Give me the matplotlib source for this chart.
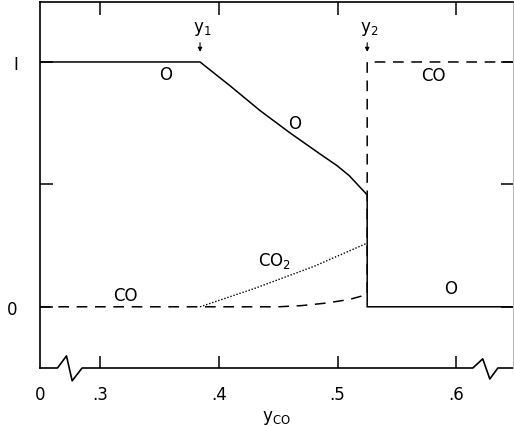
import matplotlib.pyplot as plt

# mole fractions vs y_CO
y1 = 0.384
y2 = 0.525

o_x = [0.249, 0.384, 0.41, 0.435, 0.46, 0.485, 0.50, 0.51, 0.525, 0.525, 0.648]
o_y = [1.0, 1.0, 0.90, 0.80, 0.71, 0.625, 0.575, 0.535, 0.457, 0.0, 0.0]

co_x = [0.249, 0.384, 0.45, 0.47, 0.49, 0.51, 0.525, 0.525, 0.648]
co_y = [0.0, 0.0, 0.0, 0.005, 0.015, 0.03, 0.05, 1.0, 1.0]

co2_x = [0.384, 0.43, 0.48, 0.525]
co2_y = [0.0, 0.075, 0.165, 0.26]

xticks = [0.3, 0.4, 0.5, 0.6]
xticklabels = [".3", ".4", ".5", ".6"]
yticks = [0.0, 0.5, 1.0]
yticklabels = ["0", "", "I"]

plt.rcParams["font.family"] = ["DejaVu Sans"]

fig = plt.figure(figsize=(5.14, 4.27), dpi=100)
ax = fig.add_axes([40 / 514, 58 / 427, 473 / 514, 366 / 427])

lw = 1.1
ax.plot(o_x, o_y, color="black", lw=lw, solid_joinstyle="miter")
ax.plot(co_x, co_y, color="black", lw=lw, linestyle=(0, (7, 5)))
ax.plot(co2_x, co2_y, color="black", lw=1.0, linestyle=(0, (1, 1.3)))

ax.set_xlim(0.249, 0.648)
ax.set_ylim(-0.25, 1.245)

ax.set_xticks(xticks)
ax.set_xticklabels(xticklabels, fontsize=12)
ax.set_yticks(yticks)
ax.set_yticklabels(yticklabels, fontsize=12)
ax.tick_params(axis="both", direction="in", length=9, width=1.1,
               top=True, right=True)
ax.tick_params(axis="x", pad=12)
ax.tick_params(axis="y", pad=16)

for side in ["left", "top"]:
    ax.spines[side].set_linewidth(1.2)
ax.spines["right"].set_linewidth(0.8)
ax.spines["right"].set_color("#bbbbbb")
ax.spines["bottom"].set_visible(False)

# bottom axis with break marks
bx = [0.0, 0.037, 0.056, 0.068, 0.089, 0.915, 0.936, 0.951, 0.968, 1.0]
by = [0.0, 0.0, 0.033, -0.035, 0.0, 0.0, 0.025, -0.03, 0.0, 0.0]
ax.plot(bx, by, color="black", lw=1.2, transform=ax.transAxes, clip_on=False)

ax.text(0.0, -0.071, "0", transform=ax.transAxes, ha="center", va="center",
        fontsize=12)

# curve labels
ax.text(0.355, 0.95, "O", fontsize=12, ha="center", va="center")
ax.text(0.464, 0.75, "O", fontsize=12, ha="center", va="center")
ax.text(0.581, 0.945, "CO", fontsize=12, ha="center", va="center")
ax.text(0.321, 0.05, "CO", fontsize=12, ha="center", va="center")
ax.text(0.447, 0.19, "CO$_2$", fontsize=12, ha="center", va="center")
ax.text(0.595, 0.075, "O", fontsize=12, ha="center", va="center")

for xv, lab in [(y1, "y$_1$"), (y2, "y$_2$")]:
    ax.annotate("", xy=(xv, 1.03), xytext=(xv, 1.09),
                arrowprops=dict(arrowstyle="-|>", color="black", lw=0.8,
                                mutation_scale=6))
    ax.text(xv + 0.002, 1.14, lab, fontsize=12, ha="center", va="center")

ax.set_xlabel("y$_{\\rm CO}$", fontsize=12, labelpad=4)

fig.savefig("out.png", dpi=100)
